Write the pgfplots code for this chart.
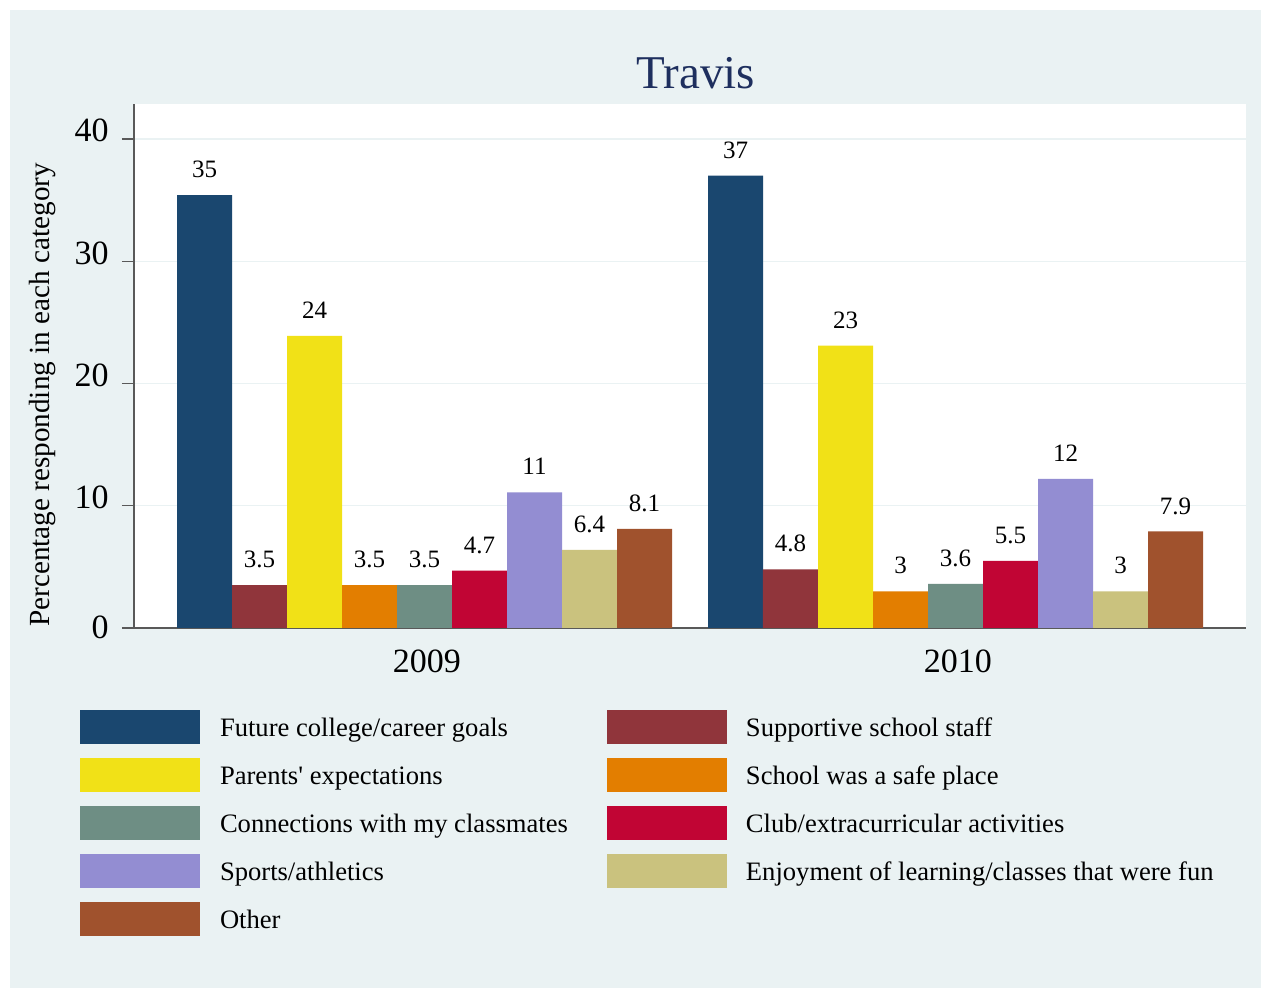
\documentclass[border=0pt]{standalone}
\usepackage{pgfplots}
\pgfplotsset{compat=1.18}
\usepackage{fontspec}
\setmainfont{Liberation Serif}
\definecolor{bg}{HTML}{EAF2F3}
\definecolor{titlec}{HTML}{1E2F5E}
\definecolor{cA}{HTML}{1A476F}
\definecolor{cB}{HTML}{90353B}
\definecolor{cC}{HTML}{F1E117}
\definecolor{cD}{HTML}{E37E00}
\definecolor{cE}{HTML}{6E8E84}
\definecolor{cF}{HTML}{C10534}
\definecolor{cG}{HTML}{938DD2}
\definecolor{cH}{HTML}{CAC27E}
\definecolor{cI}{HTML}{A0522D}
\begin{document}
\begin{tikzpicture}
\path[use as bounding box, fill=white] (0bp,0bp) rectangle (635.5bp,495bp);
\fill[bg] (5bp,1bp) rectangle (630.5bp,490bp);
\node[anchor=base, text=titlec, font=\fontsize{23.5bp}{28bp}\selectfont, inner sep=0pt] at (348bp,450.6bp) {Travis};
\begin{axis}[
  at={(67bp,181bp)}, anchor=south west,
  scale only axis, width=556bp, height=262bp,
  xmin=-0.5471, xmax=1.5471, ymin=0, ymax=42.86,
  ybar, bar width=0.10358,
  axis background/.style={fill=white},
  axis x line*=bottom, axis y line*=left,
  axis line style={-, draw=black!65, line width=0.6bp},
  xtick={0,1}, xticklabels={2009,2010},
  xtick style={draw=none},
  xticklabel style={font=\fontsize{17bp}{20bp}\selectfont, anchor=base, yshift=-16bp, xshift=1.2bp, inner sep=0pt},
  ytick={0,10,20,30,40},
  yticklabels={{\raisebox{-3.9bp}{0}\hspace{8.5bp}},10,20,30,40},
  tick align=outside,
  major tick length=6bp,
  ytick style={draw=black!65, line width=0.6bp},
  yticklabel style={font=\fontsize{17bp}{20bp}\selectfont, anchor=base east, inner sep=0pt, xshift=-6.5bp, yshift=-1.4bp},
  /pgf/number format/assume math mode=true,
  ymajorgrids, grid style={draw=bg, line width=0.6bp},
  ylabel={Percentage responding in each category},
  ylabel style={at={(axis description cs:-0.0827,0.4447)}, anchor=center, font=\fontsize{14.6bp}{17bp}\selectfont},
  nodes near coords={\pgfplotspointmeta},
  point meta=explicit symbolic,
  nodes near coords style={font=\fontsize{12.5bp}{15bp}\selectfont, anchor=base, yshift=8.7bp, inner sep=0pt, text=black},
  legend columns=2,
  legend cell align=left,
  legend style={at={(axis description cs:-0.04856,-0.1565)}, anchor=north west, draw=none, fill=none, inner sep=0pt,
    row sep=7bp, font=\fontsize{13.3bp}{16bp}\selectfont,
    nodes={inner sep=0pt, text height=11.7bp, text depth=2.9bp},
    /tikz/column 1/.style={column sep=9.8bp},
    /tikz/column 2/.style={column sep=19.5bp},
    /tikz/column 3/.style={column sep=9.5bp}},
  legend image code/.code={\path[#1,draw=none] (0bp,-8.5bp) rectangle (60bp,8.5bp);},
]
\addplot[fill=cA, draw=none, bar shift=-0.41432] coordinates {(0,35.4) [35] (1,37.0) [37]};
\addplot[fill=cB, draw=none, bar shift=-0.31074] coordinates {(0,3.5) [3.5] (1,4.8) [4.8]};
\addplot[fill=cC, draw=none, bar shift=-0.20716] coordinates {(0,23.9) [24] (1,23.1) [23]};
\addplot[fill=cD, draw=none, bar shift=-0.10358] coordinates {(0,3.5) [3.5] (1,3.0) [3]};
\addplot[fill=cE, draw=none, bar shift=0] coordinates {(0,3.5) [3.5] (1,3.6) [3.6]};
\addplot[fill=cF, draw=none, bar shift=0.10358] coordinates {(0,4.7) [4.7] (1,5.5) [5.5]};
\addplot[fill=cG, draw=none, bar shift=0.20716] coordinates {(0,11.1) [11] (1,12.2) [12]};
\addplot[fill=cH, draw=none, bar shift=0.31074] coordinates {(0,6.4) [6.4] (1,3.0) [3]};
\addplot[fill=cI, draw=none, bar shift=0.41432] coordinates {(0,8.1) [8.1] (1,7.9) [7.9]};
\legend{Future college/career goals, Supportive school staff, Parents\textquotesingle{} expectations, School was a safe place, Connections with my classmates, Club/extracurricular activities, Sports/athletics, Enjoyment of learning/classes that were fun, Other}
\end{axis}
\end{tikzpicture}
\end{document}
